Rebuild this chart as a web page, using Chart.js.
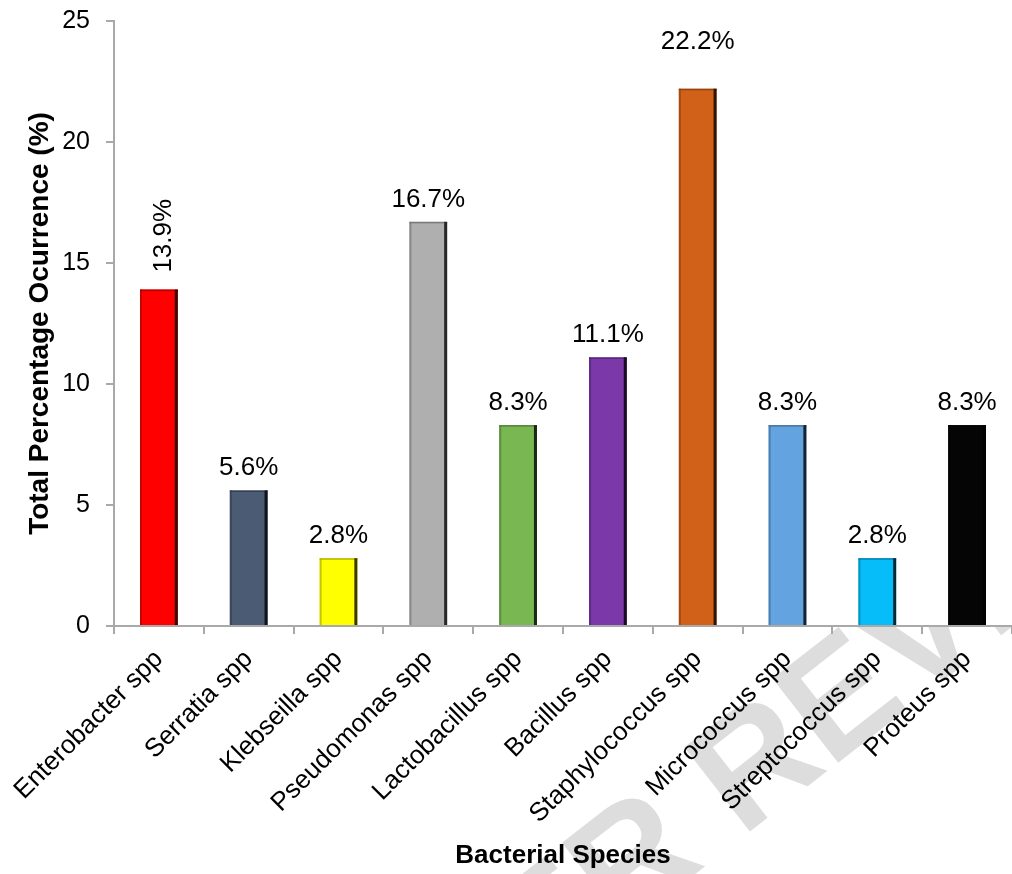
<!DOCTYPE html>
<html>
<head>
<meta charset="utf-8">
<title>Bacterial Species – Total Percentage Occurrence</title>
<script src="https://cdn.jsdelivr.net/npm/chart.js@4.4.1/dist/chart.umd.min.js"></script>
<style>
  html, body { margin: 0; padding: 0; background: #ffffff; }
  #wrap { width: 1012px; height: 874px; position: relative; }
  canvas { display: block; }
</style>
</head>
<body>
<div id="wrap"><canvas id="chart" width="1012" height="874"></canvas></div>
<script>
// Species on the x axis
const categories = [
  'Enterobacter spp', 'Serratia spp', 'Klebseilla spp', 'Pseudomonas spp',
  'Lactobacillus spp', 'Bacillus spp', 'Staphylococcus spp', 'Micrococcus spp',
  'Streptococcus spp', 'Proteus spp'
];
// Total percentage occurrence per species
const occurrence = [13.9, 5.6, 2.8, 16.7, 8.3, 11.1, 22.2, 8.3, 2.8, 8.3];
// One fill colour per bar
const barColors = [
  '#ff0000', '#4b5b73', '#ffff00', '#afafaf', '#79b752',
  '#7a38a8', '#d16019', '#63a4e0', '#06bdfa', '#050505'
];
// Y axis tick values
const yTicks = [0, 5, 10, 15, 20, 25];

const FONT = '"Liberation Sans", Arial, Helvetica, sans-serif';
const AXIS_GREY = '#a9a9a9';

function shade(hex, f) {
  const n = parseInt(hex.slice(1), 16);
  const r = Math.round(((n >> 16) & 255) * f);
  const g = Math.round(((n >> 8) & 255) * f);
  const b = Math.round((n & 255) * f);
  return `rgb(${r},${g},${b})`;
}

// Light diagonal stamp behind the figure, hidden inside the plot area
const backdrop = {
  id: 'backdrop',
  beforeDraw(chart) {
    const { ctx, chartArea, width, height } = chart;
    ctx.save();
    ctx.fillStyle = '#ffffff';
    ctx.fillRect(0, 0, width, height);

    ctx.font = `bold 155px ${FONT}`;
    ctx.fillStyle = '#dddddd';
    const text = 'PEER REVIEW';
    const lead = ctx.measureText('PEER ').width + ctx.measureText('R').width / 2;
    ctx.translate(752, 760);
    ctx.rotate(-38 * Math.PI / 180);
    ctx.textBaseline = 'alphabetic';
    ctx.textAlign = 'left';
    ctx.fillText(text, -lead, 55);
    ctx.restore();

    ctx.save();
    ctx.fillStyle = '#ffffff';
    ctx.fillRect(chartArea.left, chartArea.top, chartArea.right - chartArea.left, chartArea.bottom - chartArea.top);
    ctx.restore();
  }
};

// Bevelled bar edges and value labels
const barDecor = {
  id: 'barDecor',
  afterDatasetsDraw(chart, args, opts) {
    const { ctx } = chart;
    const meta = chart.getDatasetMeta(0);
    const values = chart.data.datasets[0].data;
    meta.data.forEach((bar, i) => {
      const base = barColors[i];
      const { x, y, base: yb, width } = bar.getProps(['x', 'y', 'base', 'width'], true);
      const l = x - width / 2, r = x + width / 2;
      ctx.save();
      ctx.fillStyle = shade(base, 0.78);
      ctx.fillRect(l, y, 2, yb - y);
      ctx.fillStyle = shade(base, 0.7);
      ctx.fillRect(l, y, width, 1.5);
      ctx.fillStyle = shade(base, 0.22);
      ctx.fillRect(r - 3, y, 3, yb - y);
      ctx.restore();

      const label = values[i].toFixed(1) + '%';
      const lift = opts.extraLift[i] || 0;
      ctx.save();
      ctx.fillStyle = '#000000';
      ctx.font = `26px ${FONT}`;
      if (opts.verticalIndex.includes(i)) {
        ctx.translate(x + 12, y - 17 - lift);
        ctx.rotate(-Math.PI / 2);
        ctx.textAlign = 'left';
        ctx.textBaseline = 'alphabetic';
        ctx.fillText(label, 0, 0);
      } else {
        ctx.textAlign = 'center';
        ctx.textBaseline = 'alphabetic';
        ctx.fillText(label, x, y - 15 - lift);
      }
      ctx.restore();
    });
  }
};

new Chart(document.getElementById('chart'), {
  type: 'bar',
  data: {
    labels: categories,
    datasets: [{
      data: occurrence,
      backgroundColor: barColors,
      borderWidth: 0,
      categoryPercentage: 0.42,
      barPercentage: 1.0
    }]
  },
  options: {
    responsive: false,
    animation: false,
    events: [],
    layout: { padding: { top: 21, right: 0, bottom: 0, left: 0 } },
    plugins: {
      legend: { display: false },
      tooltip: { enabled: false },
      barDecor: { verticalIndex: [0], extraLift: { 6: 25 } }
    },
    scales: {
      x: {
        offset: true,
        grid: {
          display: true, offset: true, drawOnChartArea: false, drawTicks: true,
          tickLength: 8, color: AXIS_GREY, lineWidth: 2
        },
        border: { display: true, color: AXIS_GREY, width: 2 },
        ticks: {
          autoSkip: false, maxRotation: 45, minRotation: 45,
          color: '#000000', padding: 10,
          font: { family: FONT, size: 26 }
        },
        title: {
          display: true, text: 'Bacterial Species', color: '#000000',
          font: { family: FONT, size: 26, weight: 'bold' },
          padding: { top: 0, bottom: 3 }
        },
        afterFit(scale) { scale.height = 248; }
      },
      y: {
        min: 0, max: 25,
        afterBuildTicks(scale) { scale.ticks = yTicks.map(v => ({ value: v })); },
        grid: {
          display: true, drawOnChartArea: false, drawTicks: true,
          tickLength: 8, color: AXIS_GREY, lineWidth: 2
        },
        border: { display: true, color: AXIS_GREY, width: 2 },
        ticks: {
          color: '#000000', padding: 16,
          font: { family: FONT, size: 25 }
        },
        title: {
          display: true, text: 'Total Percentage Ocurrence (%)', color: '#000000',
          font: { family: FONT, size: 28, weight: 'bold' },
          padding: { top: 23, bottom: 0 }
        },
        afterFit(scale) {
          scale.width = 114;
          scale.paddingTop = 0;
          scale.paddingBottom = 0;
        }
      }
    }
  },
  plugins: [backdrop, barDecor]
});
</script>
</body>
</html>
